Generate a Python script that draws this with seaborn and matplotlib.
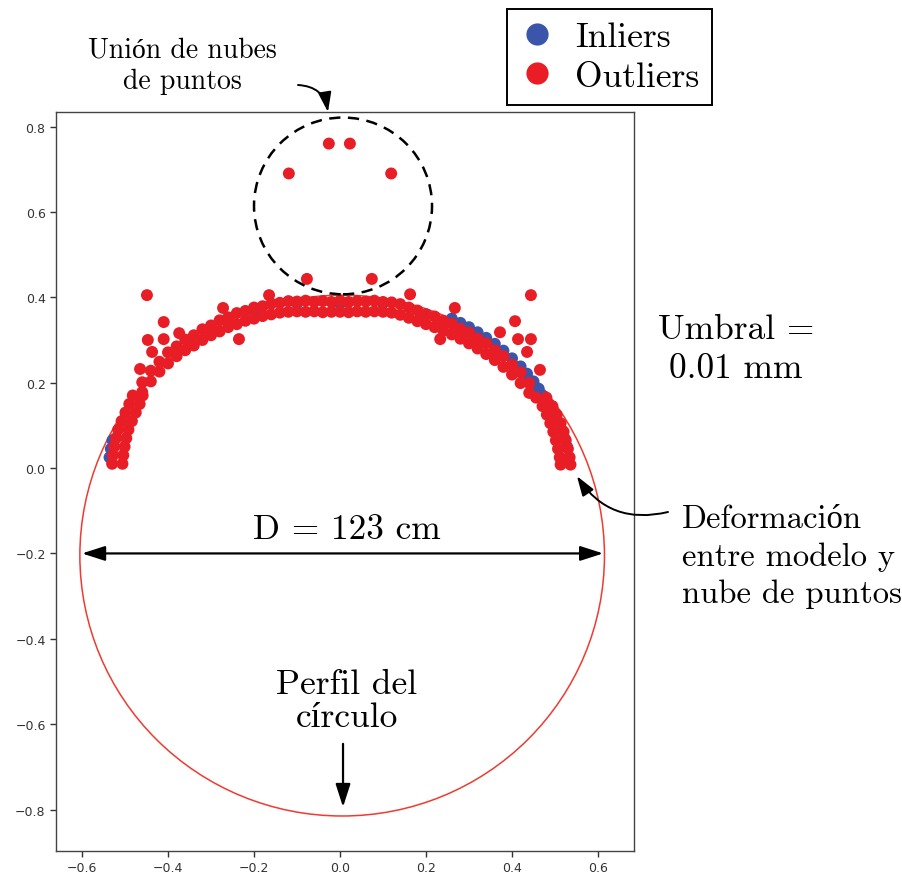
import matplotlib
matplotlib.use("Agg")
import matplotlib.pyplot as plt
from matplotlib.patches import Circle
from matplotlib.lines import Line2D
import pandas as pd
import seaborn as sns

# ---- point cloud: upper arc of the profile (two rows of points) ----
arc_x = [-0.46, -0.44, -0.42, -0.40, -0.38, -0.36, -0.34, -0.32, -0.30, -0.28,
         -0.26, -0.24, -0.22, -0.20, -0.18, -0.16, -0.14, -0.12, -0.10, -0.08,
         -0.06, -0.04, -0.02, 0.00, 0.02, 0.04, 0.06, 0.08, 0.10, 0.12,
         0.14, 0.16, 0.18, 0.20, 0.22, 0.24, 0.26, 0.28, 0.30, 0.32,
         0.34, 0.36, 0.38, 0.40, 0.42, 0.44]
arc_upper_y = [0.201, 0.228, 0.249, 0.271, 0.285, 0.301, 0.311, 0.325, 0.334, 0.346,
               0.353, 0.363, 0.368, 0.376, 0.379, 0.385, 0.387, 0.391, 0.390, 0.392,
               0.389, 0.391, 0.389, 0.392, 0.389, 0.391, 0.390, 0.392, 0.389, 0.388,
               0.384, 0.376, 0.369, 0.360, 0.355, 0.345, 0.338, 0.326, 0.317, 0.303,
               0.292, 0.276, 0.262, 0.242, 0.224, 0.199]
arc_lower_y = [0.178, 0.203, 0.226, 0.245, 0.262, 0.276, 0.287, 0.300, 0.311, 0.320,
               0.330, 0.337, 0.345, 0.350, 0.356, 0.360, 0.364, 0.366, 0.367, 0.366,
               0.367, 0.365, 0.366, 0.366, 0.365, 0.367, 0.366, 0.367, 0.366, 0.364,
               0.359, 0.352, 0.344, 0.337, 0.330, 0.322, 0.313, 0.303, 0.292, 0.280,
               0.267, 0.253, 0.237, 0.219, 0.199, 0.176]

# ---- point cloud: steep left end ----
left_y = [0.170, 0.150, 0.130, 0.110, 0.090, 0.070, 0.050, 0.030, 0.010]
left_outer_x = [-0.482, -0.490, -0.499, -0.508, -0.516, -0.521, -0.525, -0.528, -0.530]
left_inner_x = [-0.459, -0.466, -0.475, -0.484, -0.492, -0.497, -0.501, -0.504, -0.506]

# ---- point cloud: steep right end ----
right_y = [0.165, 0.145, 0.125, 0.105, 0.085, 0.065, 0.045, 0.025, 0.008]
right_inner_x = [0.456, 0.471, 0.481, 0.489, 0.496, 0.502, 0.507, 0.511, 0.513]
right_outer_x = [0.480, 0.494, 0.504, 0.513, 0.520, 0.525, 0.530, 0.534, 0.536]

# ---- isolated outliers ----
stray_x = [-0.449, -0.410, -0.447, -0.410, -0.437, -0.465, -0.374, -0.272, -0.235,
           -0.165, -0.077, 0.074, 0.444, 0.407, 0.414, 0.444, 0.435, 0.465,
           0.233, 0.372, 0.267, 0.163, -0.026, 0.023, -0.119, 0.119]
stray_y = [0.405, 0.342, 0.300, 0.302, 0.272, 0.232, 0.316, 0.375, 0.302,
           0.405, 0.443, 0.443, 0.405, 0.344, 0.302, 0.302, 0.272, 0.230,
           0.302, 0.318, 0.375, 0.407, 0.760, 0.760, 0.690, 0.690]

# ---- inliers (close to the fitted circle) ----
inlier_x = [0.26, 0.28, 0.30, 0.32, 0.34, 0.36, 0.38, 0.40, 0.42, 0.435,
            0.45, 0.462, 0.474, 0.485, 0.496, 0.506, 0.515, 0.522, 0.528,
            -0.536, -0.533, -0.529, -0.20, -0.10, 0.00, 0.10, 0.20]
inlier_y = [0.350, 0.340, 0.330, 0.318, 0.305, 0.291, 0.275, 0.257, 0.238, 0.221,
            0.203, 0.186, 0.168, 0.150, 0.130, 0.110, 0.090, 0.070, 0.050,
            0.025, 0.045, 0.065, 0.372, 0.386, 0.385, 0.386, 0.360]

# ---- fitted circle and highlighted cluster ----
circle_center = (0.005, -0.205)
circle_radius = 0.61
cluster_center = (0.007, 0.614)
cluster_radius = 0.207

x_ticks = [-0.6, -0.4, -0.2, 0.0, 0.2, 0.4, 0.6]
y_ticks = [-0.8, -0.6, -0.4, -0.2, 0.0, 0.2, 0.4, 0.6, 0.8]

BLUE = "#3b55ab"
RED = "#e81d25"

outlier_x = arc_x + arc_x + left_outer_x + left_inner_x + right_inner_x + right_outer_x + stray_x
outlier_y = arc_upper_y + arc_lower_y + left_y + left_y + right_y + right_y + stray_y

df = pd.DataFrame({
    "x": inlier_x + outlier_x,
    "y": inlier_y + outlier_y,
    "clase": ["Inliers"] * len(inlier_x) + ["Outliers"] * len(outlier_x),
})

plt.rcParams["axes.unicode_minus"] = True
serif = ["cmr10", "Liberation Serif"]
FS = 25.5
FS_SIDE = 23.5
FS_SMALL = 20

fig = plt.figure(figsize=(9.02, 8.78), dpi=100)
ax = fig.add_axes([56 / 902, 26 / 878, 578 / 902, 739 / 878])

sns.scatterplot(data=df, x="x", y="y", hue="clase",
                palette={"Inliers": BLUE, "Outliers": RED},
                s=74, linewidth=0, legend=False, ax=ax, zorder=3)

ax.add_patch(Circle(circle_center, circle_radius, fill=False,
                    edgecolor="#f03a30", lw=1.1, zorder=2))
ax.add_patch(Circle(cluster_center, cluster_radius, fill=False,
                    edgecolor="black", lw=1.8, linestyle=(0, (4.5, 3)), zorder=4))

ax.set_xlim(-0.6605, 0.6837)
ax.set_ylim(-0.897, 0.834)
ax.set_xticks(x_ticks)
ax.set_yticks(y_ticks)
ax.set_xlabel("")
ax.set_ylabel("")
ax.tick_params(labelsize=9, colors="#333333", length=4, width=1)
for sp in ax.spines.values():
    sp.set_color("#444444")
    sp.set_linewidth(1.0)

# diameter arrow
ax.annotate("", xy=(-0.600, -0.2), xytext=(0.612, -0.2),
            arrowprops=dict(arrowstyle="<|-|>,head_length=1.4,head_width=0.45",
                            color="black", lw=1.6, shrinkA=0, shrinkB=0), zorder=5)
ax.text(0.016, -0.143, "D = 123 cm", ha="center", va="center",
        fontsize=FS, family=serif)

# profile arrow
ax.annotate("", xy=(0.007, -0.794), xytext=(0.007, -0.646),
            arrowprops=dict(arrowstyle="-|>,head_length=1.4,head_width=0.45",
                            color="black", lw=1.6, shrinkA=0, shrinkB=0))
fig.text(347 / 902, 1 - 702 / 878, "Perfil del\ncírculo", ha="center", va="center",
         multialignment="center", fontsize=FS, family=serif, linespacing=1.05)

# cluster arrow
ax.annotate("", xy=(-0.028, 0.834), xytext=(298, 878 - 86),
            textcoords="figure pixels", annotation_clip=False,
            arrowprops=dict(arrowstyle="-|>,head_length=1.2,head_width=0.4",
                            connectionstyle="arc3,rad=-0.4",
                            color="black", lw=1.4, shrinkA=0, shrinkB=0))
fig.text(182 / 902, 1 - 66 / 878, "Unión de nubes\nde puntos", ha="center", va="center",
         multialignment="center", fontsize=FS_SMALL, family=serif, linespacing=1.25)

# threshold label
fig.text(736 / 902, 1 - 350 / 878, "Umbral =\n0.01 mm", ha="center", va="center",
         multialignment="center", fontsize=FS, family=serif, linespacing=1.3)

# deformation arrow
ax.annotate("", xy=(0.551, -0.019), xytext=(668, 878 - 513),
            textcoords="figure pixels", annotation_clip=False,
            arrowprops=dict(arrowstyle="-|>,head_length=1.2,head_width=0.4",
                            connectionstyle="arc3,rad=-0.35",
                            color="black", lw=1.4, shrinkA=0, shrinkB=0))
fig.text(682 / 902, 1 - 557 / 878, "Deformación\nentre modelo y\nnube de puntos",
         ha="left", va="center", multialignment="left",
         fontsize=FS_SIDE, family=serif, linespacing=1.35)

handles = [Line2D([], [], marker="o", linestyle="", markersize=16,
                  markerfacecolor=c, markeredgewidth=0) for c in (BLUE, RED)]
leg = fig.legend(handles, ["Inliers", "Outliers"], loc="upper left",
                 bbox_to_anchor=(507 / 902, 1 - 10 / 878), borderaxespad=0,
                 prop={"family": serif, "size": FS}, frameon=True, fancybox=False,
                 edgecolor="black", framealpha=1, handlelength=1.0,
                 handletextpad=0.57, borderpad=0.35, labelspacing=0.22)
leg.get_frame().set_linewidth(1.4)

fig.savefig("out.png", dpi=100)
